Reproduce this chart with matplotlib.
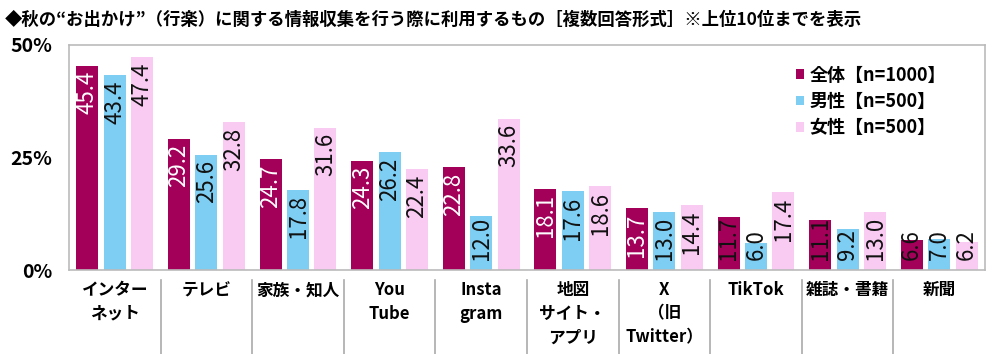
import matplotlib
matplotlib.use("Agg")
import matplotlib.pyplot as plt
import numpy as np

plt.rcParams['font.family'] = ['Noto Sans CJK JP', 'DejaVu Sans']

categories = ['インター\nネット', 'テレビ', '家族・知人', 'You\nTube', 'Insta\ngram',
              '地図\nサイト・\nアプリ', 'X\n（旧\nTwitter）', 'TikTok', '雑誌・書籍', '新聞']
total = [45.4, 29.2, 24.7, 24.3, 22.8, 18.1, 13.7, 11.7, 11.1, 6.6]
male = [43.4, 25.6, 17.8, 26.2, 12.0, 17.6, 13.0, 6.0, 9.2, 7.0]
female = [47.4, 32.8, 31.6, 22.4, 33.6, 18.6, 14.4, 17.4, 13.0, 6.2]
series_names = ['全体【n=1000】', '男性【n=500】', '女性【n=500】']
colors = ['#A3005A', '#7ECDF2', '#F9CAF2']
text_colors = ['white', '#111111', '#111111']
yticks = [0, 25, 50]

fig = plt.figure(figsize=(10, 3.54), dpi=100)
ax = fig.add_axes([0.069, 0.237, 0.916, 0.636])

x = np.arange(len(categories))
w = 0.24
step = 0.30
labels = []
for i, vals in enumerate([total, male, female]):
    xs = x + (i - 1) * step
    ax.bar(xs, vals, width=w, color=colors[i], label=series_names[i], zorder=2)
    for xv, v in zip(xs, vals):
        t = ax.text(xv, v - 1.2, f'{v:.1f}', rotation=90, ha='center', va='top',
                    fontsize=16, color=text_colors[i], zorder=3)
        labels.append((t, v))

ax.set_xlim(-0.5, len(categories) - 0.5)
ax.set_ylim(0, 50)
ax.set_yticks(yticks)
ax.set_yticklabels([f'{t}%' for t in yticks], fontsize=14, fontweight='bold')
ax.tick_params(axis='y', length=0, pad=12)
ax.set_xticks([])
for s in ax.spines.values():
    s.set_color('#BBBBBB')
    s.set_linewidth(1.2)

# category labels and separators below the axis
for i, c in enumerate(categories):
    ax.annotate(c, xy=(i, 0), xycoords='data', xytext=(0, -8), textcoords='offset points',
                ha='center', va='top', fontsize=12, fontweight='bold', linespacing=1.4,
                annotation_clip=False)
for b in np.arange(0.5, len(categories) - 0.5, 1.0):
    ax.plot([b, b], [-2.2, -40], color='#AAAAAA', lw=1.2, clip_on=False, zorder=1)

leg = ax.legend(loc='upper right', bbox_to_anchor=(0.975, 0.98), frameon=False,
                handlelength=0.45, handleheight=0.45, handletextpad=0.3,
                labelspacing=0.4, prop={'weight': 'bold', 'size': 13})

fig.text(0.005, 0.945, '◆秋の“お出かけ”（行楽）に関する情報収集を行う際に利用するもの［複数回答形式］※上位10位までを表示',
         fontsize=12.5, fontweight='bold', ha='left', va='center')

# keep short-bar labels off the baseline; labels poking out of the bar go dark
fig.canvas.draw()
r = fig.canvas.get_renderer()
inv = ax.transData.inverted()
floor = 2.3
for t, v in labels:
    bb = t.get_window_extent(r)
    y0 = inv.transform((bb.x0, bb.y0))[1]
    if y0 < floor:
        t.set_y(floor)
        t.set_va('bottom')
        top = floor + (v - 1.2 - y0)
        if top > v:
            t.set_color('#111111')

fig.savefig('out.png', dpi=100)
